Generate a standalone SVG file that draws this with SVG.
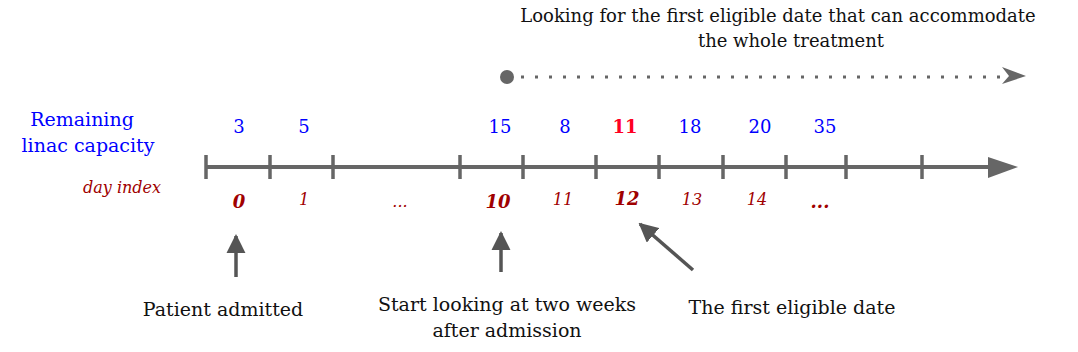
<svg xmlns="http://www.w3.org/2000/svg" width="1078" height="352" viewBox="0 0 1078 352">
<style>
text{font-family:"DejaVu Serif","Liberation Serif",serif;}
.lbl{font-size:18px;fill:#111;text-anchor:middle;}
.blbl{font-size:19px;fill:#111;text-anchor:middle;}
.cap{font-size:18px;fill:#0000ff;text-anchor:middle;}
.capr{font-size:18px;fill:#ff0022;font-weight:bold;text-anchor:middle;}
.day{font-size:16px;fill:#a00000;font-style:italic;text-anchor:middle;}
.dayb{font-size:18px;fill:#a00000;font-style:italic;font-weight:bold;text-anchor:middle;}
.axis{stroke:#666;stroke-width:4;fill:none;}
.tick{stroke:#666;stroke-width:3.5;}
.arr{stroke:#555;stroke-width:3.5;fill:none;}
</style>
<defs>
<marker id="ah" viewBox="0 0 10 10" refX="9" refY="5" markerWidth="5.5" markerHeight="5.5" markerUnits="strokeWidth" orient="auto">
<path d="M0,0 L10,5 L0,10 Z" fill="#555"/>
</marker>
</defs>
<g id="title">
<text class="lbl" x="778" y="22">Looking for the first eligible date that can accommodate</text>
<text class="lbl" x="791" y="47">the whole treatment</text>
</g>
<g id="capacity-label">
<text x="82" y="126" font-size="19" fill="#0000ff" text-anchor="middle">Remaining</text>
<text x="88" y="152" font-size="19" fill="#0000ff" text-anchor="middle">linac capacity</text>
</g>
<g id="capacities">
<text class="cap" x="239" y="133">3</text>
<text class="cap" x="304" y="133">5</text>
<text class="cap" x="500" y="133">15</text>
<text class="cap" x="565" y="133">8</text>
<text class="capr" x="625" y="133">11</text>
<text class="cap" x="690" y="133">18</text>
<text class="cap" x="760" y="133">20</text>
<text class="cap" x="825" y="133">35</text>
</g>
<g id="day-index-label">
<text class="day" x="122" y="193">day index</text>
</g>
<g id="days">
<text class="dayb" x="239" y="208">0</text>
<text class="day" x="304" y="205" font-size="17">1</text>
<text class="day" x="400" y="207">...</text>
<text class="dayb" x="498" y="208">10</text>
<text class="day" x="563" y="205" font-size="17">11</text>
<text class="dayb" x="627" y="205" font-size="15.5">12</text>
<text class="day" x="692" y="205" font-size="17">13</text>
<text class="day" x="757" y="205" font-size="17">14</text>
<text class="dayb" x="820" y="208">...</text>
</g>
<g id="timeline">
<line class="axis" x1="206" y1="167" x2="990" y2="167"/>
<path d="M988,157 L1018,167 L988,178 Z" fill="#666"/>
<g class="tick">
<line x1="206" y1="155" x2="206" y2="179"/>
<line x1="270" y1="155" x2="270" y2="179"/>
<line x1="333" y1="155" x2="333" y2="179"/>
<line x1="460" y1="155" x2="460" y2="179"/>
<line x1="523" y1="155" x2="523" y2="179"/>
<line x1="596" y1="155" x2="596" y2="179"/>
<line x1="659" y1="155" x2="659" y2="179"/>
<line x1="723" y1="155" x2="723" y2="179"/>
<line x1="786" y1="155" x2="786" y2="179"/>
<line x1="846" y1="155" x2="846" y2="179"/>
<line x1="922" y1="155" x2="922" y2="179"/>
</g>
</g>
<g id="search">
<circle cx="507" cy="77" r="7" fill="#666"/>
<line x1="521" y1="77" x2="1004" y2="77" stroke="#666" stroke-width="3" stroke-dasharray="3 11"/>
<path d="M1002,67 L1026,76 L1002,84 L1009,76 Z" fill="#666"/>
</g>
<g id="connectors">
<line class="arr" x1="236" y1="277" x2="236" y2="236" marker-end="url(#ah)"/>
<line class="arr" x1="501" y1="272" x2="501" y2="233" marker-end="url(#ah)"/>
<line class="arr" x1="693" y1="270" x2="640" y2="224" marker-end="url(#ah)"/>
</g>
<g id="labels">
<text class="blbl" x="223" y="316">Patient admitted</text>
<text class="blbl" x="507" y="311">Start looking at two weeks</text>
<text class="blbl" x="507" y="337">after admission</text>
<text class="blbl" x="792" y="314">The first eligible date</text>
</g>
</svg>
